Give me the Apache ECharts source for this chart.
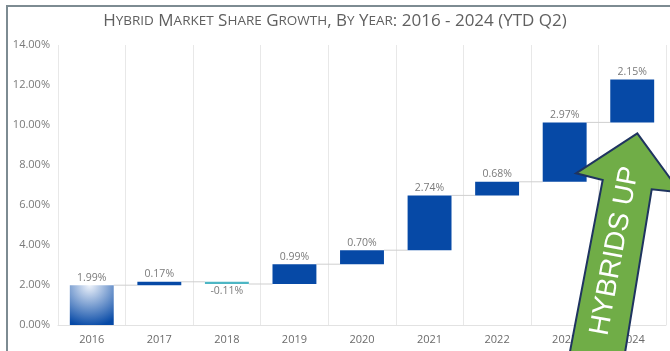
<!DOCTYPE html>
<html>
<head>
<meta charset="utf-8">
<title>Hybrid Market Share Growth</title>
<script src="https://cdn.jsdelivr.net/npm/echarts@6/dist/echarts.min.js"></script>
<style>
  html, body { margin: 0; padding: 0; background: #ffffff; }
  #chart { width: 670px; height: 351px; }
</style>
</head>
<body>
<div id="chart"></div>
<script>
// Year-over-year change in hybrid market share (percentage points)
const titleText = 'Hybrid Market Share Growth, By Year: 2016 - 2024 (YTD Q2)';
const years = ['2016', '2017', '2018', '2019', '2020', '2021', '2022', '2023', '2024'];
const changes = [1.99, 0.17, -0.11, 0.99, 0.70, 2.74, 0.68, 2.97, 2.15];
const yMin = 0, yMax = 14, yStep = 2;
const calloutText = 'HYBRIDS UP';

// Waterfall pieces: invisible base + visible step, plus running totals
const bases = [];
const steps = [];
const totals = [];
let running = 0;
changes.forEach(function (v) {
  const start = running;
  running = +(running + v).toFixed(4);
  bases.push(Math.min(start, running));
  steps.push(Math.abs(v));
  totals.push(running);
});

const BLUE = '#0649A6';
const TEAL = '#4DB6C4';
const BAR_RATIO = 0.65;

// Small-caps title built from rich text runs
function smallCaps(str) {
  let out = '';
  let run = '', runLower = null;
  const flush = function () {
    if (!run) return;
    out += runLower ? '{s|' + run.toUpperCase() + '}' : '{c|' + run + '}';
    run = '';
  };
  for (const ch of str) {
    const lower = ch !== ch.toUpperCase();
    if (runLower !== null && lower !== runLower) flush();
    runLower = lower;
    run += ch;
  }
  flush();
  return out;
}

const stepData = steps.map(function (h, i) {
  const neg = changes[i] < 0;
  let color = neg ? TEAL : BLUE;
  if (i === 0) {
    color = new echarts.graphic.RadialGradient(0.45, 0.0, 1.05, [
      { offset: 0, color: '#eef3fb' },
      { offset: 1, color: BLUE }
    ]);
  }
  return {
    value: h,
    itemStyle: { color: color },
    label: { position: neg ? 'bottom' : 'top' }
  };
});

const connectorData = totals.slice(0, -1).map(function (t, i) { return [i, t]; });

const chart = echarts.init(document.getElementById('chart'), null, { renderer: 'canvas' });

chart.setOption({
  backgroundColor: '#ffffff',
  animation: false,
  title: {
    text: smallCaps(titleText),
    left: 'center',
    top: 8,
    textStyle: {
      fontWeight: 'normal',
      rich: {
        c: { fontSize: 17, color: '#606060', fontFamily: 'Open Sans', fontWeight: 'normal' },
        s: { fontSize: 13.5, color: '#606060', fontFamily: 'Open Sans', fontWeight: 'normal' }
      }
    }
  },
  grid: { left: 58, right: 4, top: 45, bottom: 26, containLabel: false },
  xAxis: {
    type: 'category',
    data: years,
    axisLine: { show: true, lineStyle: { color: '#e2e2e2', width: 1 } },
    axisTick: { show: false },
    splitLine: { show: true, lineStyle: { color: '#e8e8e8', width: 1 } },
    axisLabel: { color: '#6b6b6b', fontSize: 11, fontFamily: 'Open Sans', margin: 9 }
  },
  yAxis: {
    type: 'value',
    min: yMin,
    max: yMax,
    interval: yStep,
    axisLine: { show: false },
    axisTick: { show: false },
    splitLine: { show: false },
    axisLabel: {
      color: '#7a7a7a',
      fontSize: 11,
      fontFamily: 'Open Sans',
      margin: 8,
      formatter: function (v) { return v.toFixed(2) + '%'; }
    }
  },
  series: [
    {
      name: 'base',
      type: 'bar',
      stack: 'waterfall',
      barWidth: (BAR_RATIO * 100) + '%',
      itemStyle: { color: 'transparent' },
      emphasis: { disabled: true },
      data: bases
    },
    {
      name: 'change',
      type: 'bar',
      stack: 'waterfall',
      barWidth: (BAR_RATIO * 100) + '%',
      label: {
        show: true,
        color: '#7a7a7a',
        fontSize: 10.5,
        fontFamily: 'Open Sans',
        distance: 2,
        formatter: function (p) { return changes[p.dataIndex].toFixed(2) + '%'; }
      },
      data: stepData
    },
    {
      name: 'connector',
      type: 'custom',
      z: 1,
      silent: true,
      renderItem: function (params, api) {
        const i = api.value(0);
        const y = api.value(1);
        const a = api.coord([i, y]);
        const b = api.coord([i + 1, y]);
        const half = api.size([1, 0])[0] * BAR_RATIO / 2;
        return {
          type: 'line',
          shape: { x1: a[0] + half, y1: a[1], x2: b[0] - half, y2: b[1] },
          style: { stroke: '#cfcfcf', lineWidth: 1 }
        };
      },
      data: connectorData
    }
  ],
  graphic: [
    // frame edges
    { type: 'line', z: 50, shape: { x1: 6, y1: 6, x2: 670, y2: 6 }, style: { stroke: '#7d8b92', lineWidth: 2 } },
    { type: 'line', z: 50, shape: { x1: 7, y1: 6, x2: 7, y2: 351 }, style: { stroke: '#7d8b92', lineWidth: 2 } },
    // callout arrow
    {
      type: 'polygon',
      z: 100,
      shape: {
        points: [
          [637.3, 133.3], [680.5, 192.5], [651.7, 189.3], [623.5, 362],
          [568, 362], [602.7, 180], [576, 173.3]
        ]
      },
      style: { fill: '#70AD47', stroke: '#1F3460', lineWidth: 2, lineJoin: 'miter' }
    },
    {
      type: 'text',
      z: 101,
      x: 615,
      y: 251,
      rotation: Math.PI / 2 - 0.181,
      style: {
        text: calloutText,
        fill: '#ffffff',
        font: '28px "Liberation Sans"',
        align: 'center',
        verticalAlign: 'middle'
      }
    }
  ]
});
</script>
</body>
</html>
